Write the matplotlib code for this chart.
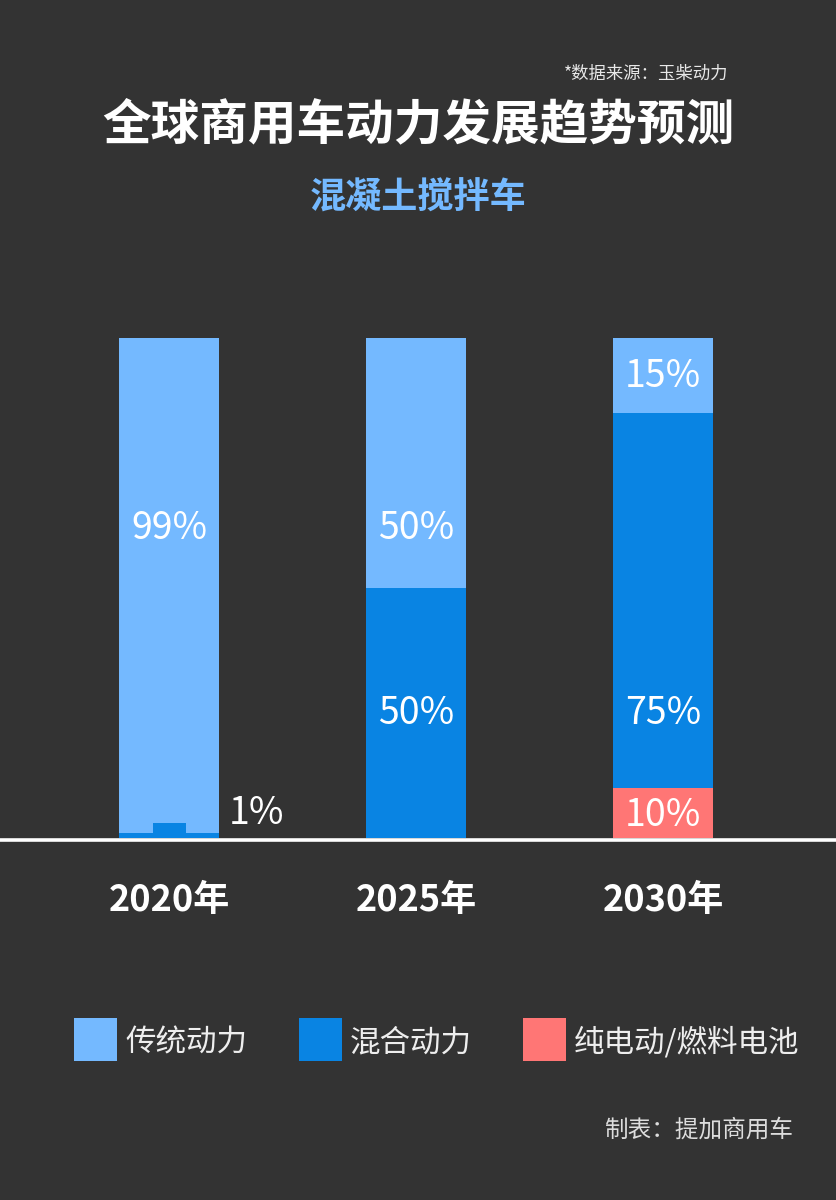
import matplotlib
matplotlib.use("Agg")
import matplotlib.pyplot as plt
from matplotlib.patches import Rectangle

plt.rcParams['font.family'] = ['Noto Sans CJK SC', 'DejaVu Sans']

# ---- data ----
years = ["2020年", "2025年", "2030年"]
series_names = ["传统动力", "混合动力", "纯电动/燃料电池"]
traditional = [99, 50, 15]
hybrid = [1, 50, 75]
electric = [0, 0, 10]
labels = [["99%", "50%", "15%"], ["1%", "50%", "75%"], ["", "", "10%"]]

title = "全球商用车动力发展趋势预测"
subtitle = "混凝土搅拌车"
source = "*数据来源：玉柴动力"
credit = "制表：提加商用车"

# ---- style ----
BG = "#333333"
C_TRAD = "#74b9ff"
C_HYB = "#0984e3"
C_ELEC = "#ff7675"
colors = [C_TRAD, C_HYB, C_ELEC]

W, H = 836, 1200
fig = plt.figure(figsize=(W / 100, H / 100), dpi=100, facecolor=BG)

TXT_DY = 3  # small downward shift for CJK font vertical centring

def fy(py):
    return 1 - (py + TXT_DY) / H

def fy0(py):
    return 1 - py / H

def fx(px):
    return px / W

# axes: data y 0..100 maps to pixel 838..338
ax = fig.add_axes([0, fy0(838), 1, 500 / H])
ax.set_facecolor("none")
ax.set_xlim(-169 / 247, 2 + (836 - 663) / 247)
ax.set_ylim(0, 100)
ax.axis("off")

x = list(range(len(years)))
bw = 100 / 247
bottom2 = [a + b for a, b in zip(hybrid, electric)]
ax.bar(x, electric, width=bw, color=C_ELEC, bottom=0, linewidth=0)
ax.bar(x, hybrid, width=bw, color=C_HYB, bottom=electric, linewidth=0)
ax.bar(x, traditional, width=bw, color=C_TRAD, bottom=bottom2, linewidth=0)

# small hybrid notch on 2020 bar (decorative marker of the 1% share)
ax.add_patch(Rectangle((x[0] - bw / 2 + 34 / 247, hybrid[0]), 33 / 247, 2,
                       color=C_HYB, linewidth=0))

# labels: (series index, bar index, x offset in data, pixel y)
label_pos = [
    (0, 0, 0.0, 525), (0, 1, 0.0, 525), (0, 2, 0.0, 373),
    (1, 0, 88 / 247, 810), (1, 1, 0.0, 710), (1, 2, 0.0, 710),
    (2, 2, 0.0, 813),
]
for s, b, dx, py in label_pos:
    ax.text(x[b] + dx, (838 - py - TXT_DY) / 5, labels[s][b], color="white",
            fontsize=27, ha="center", va="center", clip_on=False)

# baseline
fig.add_artist(plt.Line2D([0, 1], [fy0(839.5), fy0(839.5)], color="white",
                          linewidth=2.6, transform=fig.transFigure))

# year labels
for i, yr in enumerate(years):
    ax.text(x[i], (838 - 897 - TXT_DY) / 5, yr, color="white", fontsize=26,
            fontweight="bold", ha="center", va="center", clip_on=False)

# titles
fig.text(fx(728), fy(71), source, color="#e8e8e8", fontsize=12.5,
         ha="right", va="center")
fig.text(fx(418), fy(122), title, color="white", fontsize=35,
         fontweight="bold", ha="center", va="center")
fig.text(fx(418), fy(195), subtitle, color=C_TRAD, fontsize=26,
         fontweight="bold", ha="center", va="center")

# legend
leg_sq = [74, 299, 523]
for i, name in enumerate(series_names):
    fig.add_artist(Rectangle((fx(leg_sq[i]), fy0(1061)), 43 / W, 43 / H,
                             color=colors[i], transform=fig.transFigure,
                             linewidth=0))
    fig.text(fx(leg_sq[i] + 51), fy(1040), name, color="#eeeeee",
             fontsize=22, ha="left", va="center")

fig.text(fx(793), fy(1127), credit, color="#dddddd", fontsize=17,
         ha="right", va="center")

fig.savefig("out.png", dpi=100, facecolor=BG)
